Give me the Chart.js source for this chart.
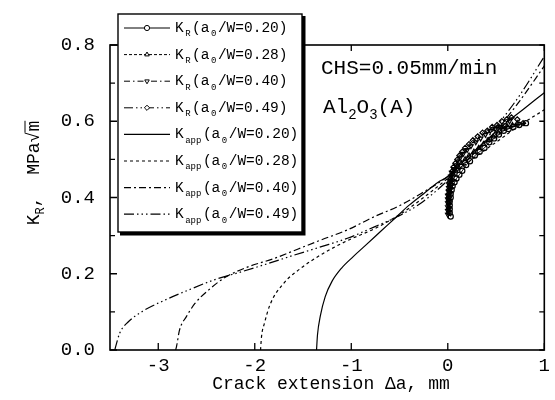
<!DOCTYPE html>
<html>
<head>
<meta charset="utf-8">
<script src="https://cdn.jsdelivr.net/npm/chart.js@4/dist/chart.umd.min.js"></script>
<style>
  html, body { margin: 0; padding: 0; background: #fff; }
  #wrap { width: 555px; height: 400px; }
</style>
</head>
<body>
<div id="wrap"><canvas id="krChart" width="555" height="400"></canvas></div>
<script>
// axis ticks
const xTicks = [-3, -2, -1, 0, 1];
const yTicks = [0, 0.1, 0.2, 0.3, 0.4, 0.5, 0.6, 0.7, 0.8];
const yTickLabels = ['0.0', '', '0.2', '', '0.4', '', '0.6', '', '0.8'];

// K_R measured points (crack extension, mm / MPa√m)
const kr020X = [0.03,0.02,0.02,0.02,0.02,0.03,0.03,0.04,0.05,0.07,0.09,0.12,0.15,0.19,0.23,0.28,0.33,0.38,0.43,0.48,0.53,0.58,0.63,0.68,0.74,0.81];
const kr020Y = [0.35,0.36,0.37,0.38,0.39,0.40,0.41,0.42,0.43,0.44,0.45,0.46,0.47,0.485,0.495,0.51,0.52,0.53,0.545,0.555,0.565,0.575,0.58,0.585,0.59,0.595];
const kr028X = [0.01,0.01,0.01,0.01,0.01,0.02,0.02,0.03,0.04,0.06,0.08,0.11,0.14,0.18,0.22,0.27,0.32,0.37,0.42,0.47,0.52,0.57,0.62,0.67,0.72];
const kr028Y = [0.365,0.375,0.385,0.395,0.405,0.415,0.425,0.435,0.445,0.46,0.47,0.48,0.49,0.50,0.51,0.52,0.53,0.54,0.55,0.56,0.57,0.58,0.585,0.59,0.595];
const kr040X = [0.00,0.00,0.00,0.00,0.00,0.00,0.01,0.01,0.01,0.02,0.03,0.04,0.06,0.08,0.10,0.13,0.16,0.20,0.24,0.29,0.34,0.39,0.44,0.49,0.54,0.59,0.64];
const kr040Y = [0.355,0.365,0.375,0.385,0.395,0.405,0.415,0.425,0.435,0.445,0.455,0.465,0.475,0.485,0.495,0.505,0.515,0.525,0.535,0.545,0.555,0.565,0.575,0.58,0.585,0.59,0.60];
const kr049X = [0.01,0.01,0.01,0.01,0.02,0.02,0.03,0.04,0.05,0.06,0.08,0.10,0.12,0.15,0.18,0.22,0.26,0.31,0.36,0.41,0.46,0.51,0.56,0.61,0.66,0.72,0.78];
const kr049Y = [0.39,0.40,0.41,0.42,0.43,0.44,0.45,0.46,0.47,0.48,0.49,0.50,0.51,0.52,0.53,0.54,0.55,0.56,0.57,0.575,0.585,0.59,0.60,0.605,0.61,0.605,0.595];

// K_app curves
const app020X = [-1.36,-1.35,-1.32,-1.27,-1.2,-1.1,-0.98,-0.85,-0.7,-0.55,-0.4,-0.25,-0.1,0,0.2,0.4,0.6,0.8,1.0];
const app020Y = [0,0.04,0.09,0.14,0.18,0.215,0.245,0.275,0.31,0.345,0.38,0.41,0.44,0.455,0.505,0.55,0.595,0.635,0.675];
const app028X = [-1.94,-1.93,-1.9,-1.84,-1.7,-1.52,-1.3,-1.04,-0.76,-0.5,-0.25,0,0.25,0.5,0.75,1.0];
const app028Y = [0,0.035,0.07,0.12,0.175,0.215,0.252,0.287,0.318,0.355,0.4,0.45,0.5,0.545,0.59,0.63];
const app040X = [-2.82,-2.81,-2.78,-2.71,-2.62,-2.48,-2.31,-2.07,-1.8,-1.55,-1.31,-1.04,-0.76,-0.52,-0.28,0,0.25,0.5,0.75,1.0];
const app040Y = [0,0.01,0.052,0.087,0.122,0.157,0.19,0.218,0.24,0.265,0.289,0.315,0.35,0.376,0.41,0.455,0.51,0.575,0.655,0.745];
const app049X = [-3.45,-3.44,-3.4,-3.31,-3.14,-2.93,-2.69,-2.42,-2.14,-1.86,-1.59,-1.31,-1.04,-0.76,-0.52,-0.28,0,0.25,0.5,0.75,1.0];
const app049Y = [0,0.01,0.044,0.074,0.105,0.131,0.157,0.184,0.205,0.227,0.249,0.271,0.293,0.323,0.35,0.385,0.445,0.51,0.585,0.67,0.77];

function pts(xs, ys) {
    return xs.map((x, i) => ({ x: x, y: ys[i] }));
}

const FONT = '"Liberation Mono", "DejaVu Sans Mono", monospace';

function krSet(parts, xs, ys, style, rot, dash) {
    return {
        label: 'KR', labelParts: parts, data: pts(xs, ys),
        borderColor: '#000', backgroundColor: 'rgba(255,255,255,0)', borderWidth: 1,
        borderDash: dash, pointStyle: style, pointRotation: rot,
        pointRadius: 2.6, pointBorderWidth: 1.2, pointBackgroundColor: 'rgba(255,255,255,0)',
        pointBorderColor: '#000', tension: 0
    };
}
function appSet(parts, xs, ys, dash) {
    return {
        label: 'Kapp', labelParts: parts, data: pts(xs, ys),
        borderColor: '#000', borderWidth: 1.2, borderDash: dash,
        pointRadius: 0, cubicInterpolationMode: 'monotone'
    };
}

const datasets = [
    krSet([['K',0],['R',1],['(a',0],['0',1],['/W=0.20)',0]], kr020X, kr020Y, 'circle', 0, []),
    krSet([['K',0],['R',1],['(a',0],['0',1],['/W=0.28)',0]], kr028X, kr028Y, 'triangle', 0, [3, 2]),
    krSet([['K',0],['R',1],['(a',0],['0',1],['/W=0.40)',0]], kr040X, kr040Y, 'triangle', 180, [6, 3, 1.5, 3]),
    krSet([['K',0],['R',1],['(a',0],['0',1],['/W=0.49)',0]], kr049X, kr049Y, 'rectRot', 0, [9, 3, 1.5, 3, 1.5, 3]),
    appSet([['K',0],['app',1],['(a',0],['0',1],['/W=0.20)',0]], app020X, app020Y, []),
    appSet([['K',0],['app',1],['(a',0],['0',1],['/W=0.28)',0]], app028X, app028Y, [3, 3]),
    appSet([['K',0],['app',1],['(a',0],['0',1],['/W=0.40)',0]], app040X, app040Y, [7, 3, 2, 3]),
    appSet([['K',0],['app',1],['(a',0],['0',1],['/W=0.49)',0]], app049X, app049Y, [10, 3, 1.5, 3, 1.5, 3, 1.5, 3])
];

// draws text with subscripts, returns end x
function drawParts(ctx, parts, x, y, size, gap) {
    gap = gap || 0;
    for (const [t, sub] of parts) {
        const s = sub ? Math.round(size * 0.65) : size;
        ctx.font = s + 'px ' + FONT;
        if (sub) x += gap;
        ctx.fillText(t, x, sub ? y + size * 0.3 : y);
        x += ctx.measureText(t).width + (sub ? gap : 0);
    }
    return x;
}
function partsWidth(ctx, parts, size) {
    let w = 0;
    for (const [t, sub] of parts) {
        const s = sub ? Math.round(size * 0.65) : size;
        ctx.font = s + 'px ' + FONT;
        w += ctx.measureText(t).width;
    }
    return w;
}

const decorPlugin = {
    id: 'decor',
    afterDraw(chart) {
        const ctx = chart.ctx;
        const a = chart.chartArea;
        const xs = chart.scales.x, ys = chart.scales.y;
        ctx.save();
        ctx.strokeStyle = '#000';
        ctx.fillStyle = '#000';
        ctx.setLineDash([]);

        // frame
        ctx.lineWidth = 1.6;
        ctx.strokeRect(a.left, a.top, a.right - a.left, a.bottom - a.top);

        // inward ticks
        ctx.lineWidth = 1.3;
        ctx.beginPath();
        yTicks.forEach((v, i) => {
            const py = ys.getPixelForValue(v);
            const len = i % 2 === 0 ? 7 : 5;
            ctx.moveTo(a.left, py); ctx.lineTo(a.left + len, py);
            ctx.moveTo(a.right, py); ctx.lineTo(a.right - 5, py);
        });
        xTicks.forEach(v => {
            const px = xs.getPixelForValue(v);
            ctx.moveTo(px, a.bottom); ctx.lineTo(px, a.bottom - 7);
            ctx.moveTo(px, a.top); ctx.lineTo(px, a.top + 6);
        });
        ctx.stroke();

        // annotations
        ctx.textBaseline = 'alphabetic';
        ctx.textAlign = 'left';
        drawParts(ctx, [['CHS=0.05mm/min', 0]], 321, 74, 21);
        drawParts(ctx, [['Al', 0], ['2', 1], ['O', 0], ['3', 1], ['(A)', 0]], 323, 113, 21);

        // legend box
        const bx = 118, by = 14, bw = 184, bh = 218;
        ctx.fillRect(bx + 2, by + 2, bw + 1.5, bh + 1.5);
        ctx.fillStyle = '#fff';
        ctx.fillRect(bx, by, bw, bh);
        ctx.lineWidth = 1.4;
        ctx.strokeRect(bx, by, bw, bh);
        ctx.fillStyle = '#000';
        chart.data.datasets.forEach((ds, i) => {
            const cy = 28 + i * 26.6;
            ctx.lineWidth = ds.borderWidth;
            ctx.setLineDash(ds.borderDash || []);
            ctx.beginPath();
            ctx.moveTo(124, cy); ctx.lineTo(170, cy);
            ctx.stroke();
            ctx.setLineDash([]);
            if (ds.pointRadius > 0) {
                ctx.fillStyle = '#fff';
                ctx.lineWidth = 1;
                Chart.helpers.drawPoint(ctx, {
                    pointStyle: ds.pointStyle, rotation: ds.pointRotation,
                    radius: ds.pointRadius, borderWidth: 1
                }, 147, cy);
                ctx.fillStyle = '#000';
            }
            drawParts(ctx, ds.labelParts, 175, cy + 4, 14.5, 1.5);
        });

        // x title
        ctx.font = '18px ' + FONT;
        ctx.textAlign = 'center';
        ctx.fillText('Crack extension \u0394a, mm', 331, 389);
        ctx.textAlign = 'left';

        // y title, rotated
        ctx.translate(33, 173);
        ctx.rotate(-Math.PI / 2);
        const yParts = [['K', 0], ['R', 1], [',  MPa', 0], ['\u221Am', 0]];
        const w = partsWidth(ctx, yParts, 18);
        const endX = drawParts(ctx, yParts, -w / 2, 6, 18);
        ctx.font = '18px ' + FONT;
        const mw = ctx.measureText('m').width;
        ctx.lineWidth = 1;
        ctx.beginPath();
        ctx.moveTo(endX - mw - 1, -8); ctx.lineTo(endX, -8);
        ctx.stroke();
        ctx.restore();
    }
};

const chart = new Chart(document.getElementById('krChart').getContext('2d'), {
    type: 'line',
    data: { datasets: datasets },
    options: {
        responsive: false,
        devicePixelRatio: 1,
        animation: false,
        layout: { padding: { top: 45, right: 10, left: 0, bottom: 0 } },
        plugins: { legend: { display: false }, tooltip: { enabled: false } },
        scales: {
            x: {
                type: 'linear', min: -3.5, max: 1,
                grid: { display: false, drawTicks: false },
                border: { display: false },
                afterBuildTicks: s => { s.ticks = xTicks.map(v => ({ value: v })); },
                afterFit: s => { s.height = 50; },
                ticks: {
                    padding: 5, color: '#000', font: { family: FONT, size: 19 },
                    callback: v => String(v)
                }
            },
            y: {
                type: 'linear', min: 0, max: 0.8,
                grid: { display: false, drawTicks: false },
                border: { display: false },
                afterBuildTicks: s => { s.ticks = yTicks.map(v => ({ value: v })); },
                afterFit: s => { s.width = 110; },
                ticks: {
                    padding: 15, color: '#000', font: { family: FONT, size: 19 },
                    callback: (v, i) => yTickLabels[i]
                }
            }
        }
    },
    plugins: [decorPlugin]
});
</script>
</body>
</html>
